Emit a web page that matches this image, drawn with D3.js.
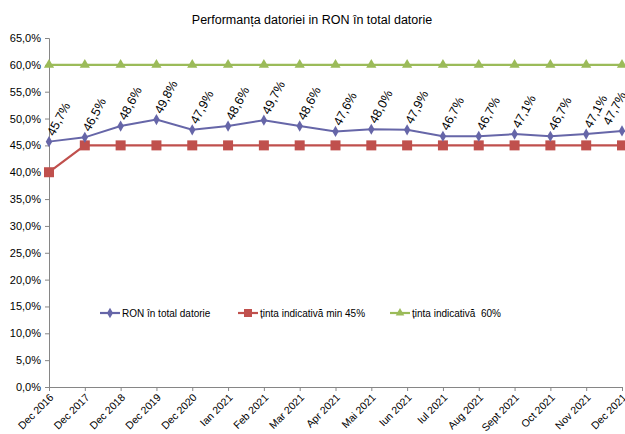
<!DOCTYPE html>
<html>
<head>
<meta charset="utf-8">
<script src="https://cdn.jsdelivr.net/npm/d3@7"></script>
<style>
body { margin: 0; background: #fff; }
text { font-family: "Liberation Sans", Arial, sans-serif; fill: #000; }
</style>
</head>
<body>
<svg id="chart" width="625" height="434"></svg>
<script>
var categories = ["Dec 2016", "Dec 2017", "Dec 2018", "Dec 2019", "Dec 2020", "Ian 2021", "Feb 2021",
    "Mar 2021", "Apr 2021", "Mai 2021", "Iun 2021", "Iul 2021", "Aug 2021", "Sept 2021",
    "Oct 2021", "Nov 2021", "Dec 2021"];
var ronValues = [45.7, 46.5, 48.6, 49.8, 47.9, 48.6, 49.7, 48.6, 47.6, 48.0, 47.9, 46.7, 46.7, 47.1, 46.7, 47.1, 47.7];
var minTarget = [40, 45, 45, 45, 45, 45, 45, 45, 45, 45, 45, 45, 45, 45, 45, 45, 45];
var maxTarget = [60, 60, 60, 60, 60, 60, 60, 60, 60, 60, 60, 60, 60, 60, 60, 60, 60];
var yTicks = [0, 5, 10, 15, 20, 25, 30, 35, 40, 45, 50, 55, 60, 65];
var seriesNames = ["RON în total datorie", "ținta indicativă min 45%", "ținta indicativă  60%"];

var svg = d3.select("#chart");
var plotL = 49, plotR = 622, plotT = 38, plotB = 387;

var x = d3.scalePoint().domain(categories).range([plotL, plotR]);
var y = d3.scaleLinear().domain([0, 65]).range([plotB, plotT]);

var fmt = function (v) { return d3.format(".1f")(v).replace(".", ",") + "%"; };

svg.append("text")
    .attr("x", 312).attr("y", 24)
    .attr("text-anchor", "middle")
    .style("font-size", "12.5px")
    .text("Performanța datoriei in RON în total datorie");

// axa y
var yAxis = svg.append("g")
    .attr("transform", "translate(" + plotL + ",0)")
    .call(d3.axisLeft(y).tickValues(yTicks).tickSize(4).tickPadding(4).tickFormat(fmt));
yAxis.selectAll("text").style("font-size", "11px");

// axa x
var xAxis = svg.append("g")
    .attr("transform", "translate(0," + plotB + ")")
    .call(d3.axisBottom(x).tickSize(4).tickSizeOuter(0));
xAxis.selectAll("text")
    .style("font-size", "10.5px")
    .attr("text-anchor", "end")
    .attr("y", 0)
    .attr("dx", "0.1em").attr("dy", "0.8em")
    .attr("transform", "translate(-2,6) rotate(-45)");
svg.selectAll(".domain, .tick line").attr("stroke", "#868686");

var line = d3.line()
    .x(function (d, i) { return x(categories[i]); })
    .y(function (d) { return y(d); });

// verde 60%
svg.append("path").datum(maxTarget)
    .attr("d", line).attr("fill", "none").attr("stroke", "#9bbb59").attr("stroke-width", 2.2);
svg.selectAll(".tri").data(maxTarget).enter().append("path")
    .attr("d", d3.symbol().type(d3.symbolTriangle).size(45))
    .attr("transform", function (d, i) { return "translate(" + x(categories[i]) + "," + y(d) + ")"; })
    .attr("fill", "#9bbb59");

// rosu 45%
svg.append("path").datum(minTarget)
    .attr("d", line).attr("fill", "none").attr("stroke", "#c0504d").attr("stroke-width", 2.2);
svg.selectAll(".sq").data(minTarget).enter().append("rect")
    .attr("x", function (d, i) { return x(categories[i]) - 5; })
    .attr("y", function (d) { return y(d) - 5; })
    .attr("width", 10).attr("height", 10)
    .attr("fill", "#c0504d");

// RON
svg.append("path").datum(ronValues)
    .attr("d", line).attr("fill", "none").attr("stroke", "#6666a8").attr("stroke-width", 2);
svg.selectAll(".dia").data(ronValues).enter().append("path")
    .attr("d", d3.symbol().type(d3.symbolDiamond).size(36))
    .attr("transform", function (d, i) { return "translate(" + x(categories[i]) + "," + y(d) + ")"; })
    .attr("fill", "#6666a8");

// etichete: tinute in interiorul graficului la dreapta
svg.selectAll(".lbl").data(ronValues).enter().append("text")
    .attr("transform", function (d, i) {
        var lx = Math.min(x(categories[i]) + 5, plotR - 12);
        return "translate(" + lx + "," + (y(d) - 5) + ") rotate(-62)";
    })
    .style("font-size", "12.5px")
    .text(fmt);

// legenda
var legend = [
    {x: 100, color: "#6666a8", sym: "diamond"},
    {x: 238, color: "#c0504d", sym: "square"},
    {x: 390, color: "#9bbb59", sym: "triangle"}
];
var ly = 313;
legend.forEach(function (l, i) {
    svg.append("line").attr("x1", l.x).attr("x2", l.x + 20).attr("y1", ly).attr("y2", ly)
        .attr("stroke", l.color).attr("stroke-width", 2.2);
    if (l.sym === "square") {
        svg.append("rect").attr("x", l.x + 6).attr("y", ly - 4).attr("width", 8).attr("height", 8).attr("fill", l.color);
    } else {
        svg.append("path")
            .attr("d", d3.symbol().type(l.sym === "diamond" ? d3.symbolDiamond : d3.symbolTriangle).size(32))
            .attr("transform", "translate(" + (l.x + 10) + "," + ly + ")")
            .attr("fill", l.color);
    }
    svg.append("text").attr("x", l.x + 22).attr("y", ly + 4)
        .style("font-size", "10px")
        .style("white-space", "pre")
        .text(seriesNames[i]);
});
</script>
</body>
</html>
